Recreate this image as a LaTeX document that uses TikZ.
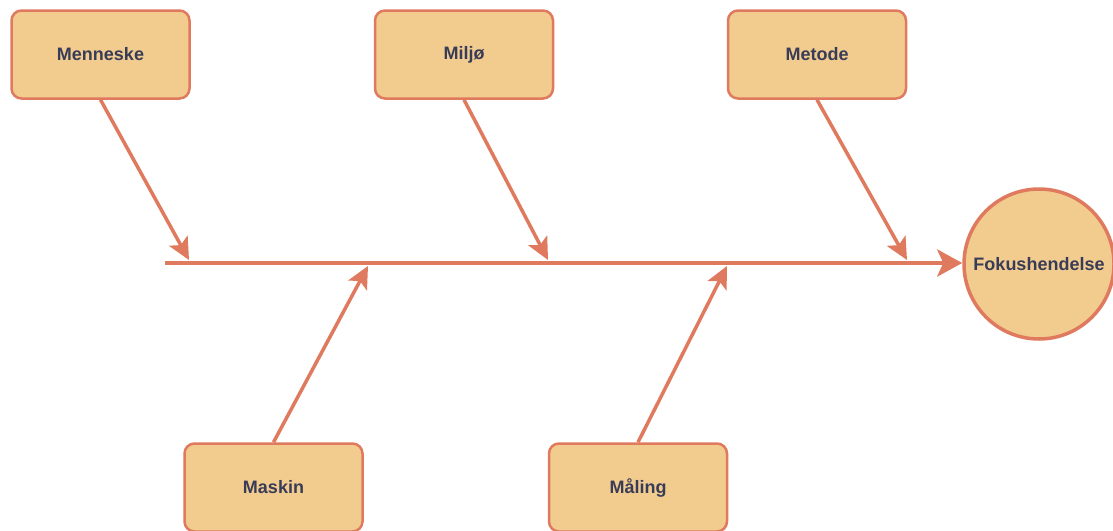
\documentclass[tikz,border=0pt]{standalone}
\usepackage{fontspec}
\setmainfont{Liberation Sans}
\usetikzlibrary{arrows.meta}
\definecolor{causefill}{HTML}{F2CC8F}
\definecolor{causeline}{HTML}{E07A5F}
\definecolor{causetext}{HTML}{393C56}
\begin{document}
\begin{tikzpicture}[x=1pt,y=-1pt,
  cause/.style={draw=causeline, fill=causefill, line width=2.5pt, rounded corners=10pt,
    minimum width=178pt, minimum height=88pt, inner sep=0pt,
    text=causetext, font=\fontsize{18}{21}\selectfont\bfseries},
  effect/.style={circle, draw=causeline, fill=causefill, line width=3.5pt,
    minimum size=150pt, inner sep=0pt,
    text=causetext, font=\fontsize{18}{21}\selectfont\bfseries},
  bone/.style={draw=causeline, line width=3.5pt,
    -{Stealth[length=22pt, width=21pt, inset=5pt]}},
  spine/.style={draw=causeline, line width=4.5pt,
    -{Stealth[length=25pt, width=27pt, inset=6pt]}}]
  \useasboundingbox (0,0) rectangle (1113,530);

  % cause categories
  \node[cause] (menneske) at (100.5,54.5) {Menneske};
  \node[cause] (miljo)    at (464,54.5)   {Miljø};
  \node[cause] (metode)   at (817,54.5)   {Metode};
  \node[cause] (maskin)   at (273.5,487.5) {Maskin};
  \node[cause] (maling)   at (638,487.5)  {Måling};

  % effect
  \node[effect] (fokus) at (1039,264) {Fokushendelse};

  % points where the bones meet the spine
  \coordinate (tail) at (165,263);
  \coordinate (jmenneske) at (189,260);
  \coordinate (jmiljo)    at (548,260);
  \coordinate (jmetode)   at (907,260);
  \coordinate (jmaskin)   at (368,266);
  \coordinate (jmaling)   at (727,266);

  % spine
  \draw[spine] (tail) -- (tail -| fokus.west);

  % bones
  \draw[bone] (menneske.south) -- (jmenneske);
  \draw[bone] (miljo.south)    -- (jmiljo);
  \draw[bone] (metode.south)   -- (jmetode);
  \draw[bone] (maskin.north)   -- (jmaskin);
  \draw[bone] (maling.north)   -- (jmaling);
\end{tikzpicture}
\end{document}
